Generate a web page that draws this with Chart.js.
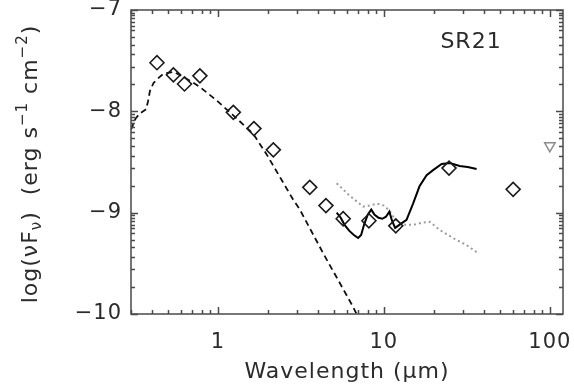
<!DOCTYPE html>
<html><head><meta charset="utf-8">
<script src="https://cdn.jsdelivr.net/npm/chart.js@4/dist/chart.umd.min.js"></script>
<style>html,body{margin:0;padding:0;background:#fff}#wrap{width:574px;height:391px;position:relative}</style>
</head><body><div id="wrap"><canvas id="c"></canvas></div>
<script>
// Photometry (diamonds)
const photWave = [0.43, 0.54, 0.63, 0.78, 1.24, 1.65, 2.16, 3.58, 4.48, 5.69, 8.13, 11.8, 24.7, 60.1];
const photFlux = [-7.52, -7.64, -7.73, -7.65, -8.01, -8.17, -8.38, -8.75, -8.93, -9.06, -9.08, -9.13, -8.56, -8.77];
// Upper limit (triangle)
const limWave = [100];
const limFlux = [-8.34];
// Stellar photosphere (dashed)
const starWave = [0.30, 0.32, 0.34, 0.37, 0.38, 0.39, 0.41, 0.44, 0.47, 0.54, 0.62, 0.70, 0.78, 0.98, 1.24, 1.63, 1.96, 2.2, 2.84, 3.12, 4.31, 6.53, 6.85];
const starFlux = [-8.18, -8.07, -8.02, -7.98, -7.90, -7.80, -7.72, -7.67, -7.63, -7.61, -7.66, -7.71, -7.76, -7.89, -8.04, -8.22, -8.42, -8.56, -8.87, -8.97, -9.40, -9.93, -10.0];
// IRS spectrum (solid)
const irsWave = [5.2, 5.5, 5.8, 6.2, 6.6, 7.0, 7.3, 7.6, 8.0, 8.4, 8.8, 9.3, 9.8, 10.3, 10.8, 11.2, 11.7, 12.4, 13.7, 15.0, 16.4, 18.1, 19.8, 22.3, 25.0, 28.6, 32.0, 36.2];
const irsFlux = [-9.00, -9.05, -9.12, -9.18, -9.22, -9.25, -9.22, -9.12, -9.02, -8.97, -9.02, -9.05, -9.06, -9.04, -8.99, -9.08, -9.15, -9.12, -9.07, -8.91, -8.74, -8.63, -8.58, -8.52, -8.51, -8.54, -8.55, -8.57];
// Second spectrum (grey dotted)
const modWave = [5.2, 6.2, 7.5, 8.2, 9.1, 10.0, 10.8, 11.5, 12.4, 13.5, 15.0, 17.0, 18.9, 21.7, 26.1, 31.5, 36.2];
const modFlux = [-8.71, -8.83, -8.94, -8.93, -8.91, -8.93, -8.98, -9.05, -9.10, -9.12, -9.12, -9.10, -9.09, -9.17, -9.25, -9.32, -9.39];
// Axis tick labels
const xTickLabels = [1, 10, 100];
const yTickLabels = [-10, -9, -8, -7];
const yMinorFrac = [0.027, 0.053, 0.083, 0.117, 0.153, 0.2, 0.267, 0.343, 0.437, 0.56, 0.733];
const objectName = 'SR21';

const FONT = '"DejaVu Sans", "Liberation Sans", sans-serif';
const TXT = '#2b2b2b';
const AXIS = '#4a4a4a';
const pts = (xs, ys) => xs.map((v, i) => ({x: v, y: ys[i]}));

const spacing = {id: 'spacing', beforeDraw(chart){ chart.ctx.letterSpacing = '1px'; }};

const frame = {id: 'frame', afterDatasetsDraw(chart){
  const {ctx, chartArea: a, scales: {x, y}} = chart;
  ctx.save();
  ctx.strokeStyle = AXIS; ctx.lineWidth = 1.5;
  ctx.strokeRect(a.left, a.top, a.right - a.left, a.bottom - a.top);
  ctx.beginPath();
  for (let d = -1; d <= 2; d++) for (let k = 1; k <= 9; k++) {
    const v = k * Math.pow(10, d);
    if (v < x.min - 1e-9 || v > x.max) continue;
    const px = Math.round(x.getPixelForValue(v)) + 0.5;
    const L = k === 1 ? 7 : 4;
    ctx.moveTo(px, a.bottom); ctx.lineTo(px, a.bottom - L);
    ctx.moveTo(px, a.top); ctx.lineTo(px, a.top + L);
  }
  for (const m of yTickLabels) {
    const py = Math.round(y.getPixelForValue(m)) + 0.5;
    ctx.moveTo(a.left, py); ctx.lineTo(a.left + 7, py);
    ctx.moveTo(a.right, py); ctx.lineTo(a.right - 7, py);
    if (m > -10) for (const f of yMinorFrac) {
      const q = Math.round(y.getPixelForValue(m - f)) + 0.5;
      ctx.moveTo(a.left, q); ctx.lineTo(a.left + 4, q);
      ctx.moveTo(a.right, q); ctx.lineTo(a.right - 4, q);
    }
  }
  ctx.stroke();
  // object label
  ctx.fillStyle = TXT; ctx.font = '22px ' + FONT;
  ctx.textAlign = 'center'; ctx.textBaseline = 'middle';
  ctx.fillText(objectName, a.right - 92, a.top + 32);
  ctx.restore();
}};

const yTitle = {id: 'yTitle', afterDraw(chart){
  const ctx = chart.ctx, a = chart.chartArea;
  const big = '22px ' + FONT, small = '15px ' + FONT;
  const segs = [
    ['log(\u03BDF', big, 0], ['\u03BD', small, 6], [')  (erg s', big, 0], ['\u22121', small, -8],
    [' cm', big, 0], ['\u22122', small, -8], [')', big, 0]
  ];
  ctx.save();
  ctx.letterSpacing = '1px';
  ctx.fillStyle = TXT; ctx.textBaseline = 'middle'; ctx.textAlign = 'left';
  let total = 0;
  for (const s of segs) { ctx.font = s[1]; total += ctx.measureText(s[0]).width; }
  ctx.translate(31, (a.top + a.bottom) / 2 + 2);
  ctx.rotate(-Math.PI / 2);
  let cx = -total / 2;
  for (const s of segs) { ctx.font = s[1]; ctx.fillText(s[0], cx, s[2]); cx += ctx.measureText(s[0]).width; }
  ctx.restore();
}};

new Chart(document.getElementById('c'), {
  type: 'scatter',
  data: {datasets: [
    {data: pts(photWave, photFlux), pointStyle: 'rectRot', pointRadius: 7, pointBorderWidth: 1.6,
     pointBorderColor: '#1a1a1a', pointBackgroundColor: 'rgba(0,0,0,0)', showLine: false},
    {data: pts(limWave, limFlux), pointStyle: 'triangle', rotation: 180, pointRadius: 6, pointBorderWidth: 1.5,
     pointBorderColor: '#8a8a8a', pointBackgroundColor: 'rgba(0,0,0,0)', showLine: false},
    {data: pts(irsWave, irsFlux), showLine: true, borderColor: '#000', borderWidth: 2, pointRadius: 0, fill: false},
    {data: pts(modWave, modFlux), showLine: true, borderColor: '#9c9c9c', borderWidth: 2, borderDash: [2, 3], pointRadius: 0, fill: false},
    {data: pts(starWave, starFlux), showLine: true, borderColor: '#111', borderWidth: 1.8, borderDash: [6, 4], pointRadius: 0, fill: false}
  ]},
  options: {
    responsive: true, maintainAspectRatio: false, animation: false,
    layout: {padding: {top: 10, right: 11, left: 0, bottom: 0}},
    plugins: {legend: {display: false}, tooltip: {enabled: false}},
    scales: {
      x: {type: 'logarithmic', min: 0.3, max: 120,
        grid: {display: false, drawTicks: false}, border: {display: false},
        afterBuildTicks: s => { s.ticks = xTickLabels.map(v => ({value: v})); },
        ticks: {callback: v => String(v), font: {family: FONT, size: 21}, color: TXT, padding: 16, maxRotation: 0, autoSkip: false},
        title: {display: true, text: 'Wavelength (\u03BCm)', font: {family: FONT, size: 22}, color: TXT, padding: {top: 0, bottom: 6}},
        afterFit: s => { s.height = 77; s.paddingLeft = 0; s.paddingRight = 0; }
      },
      y: {min: -10, max: -7,
        grid: {display: false, drawTicks: false}, border: {display: false},
        afterBuildTicks: s => { s.ticks = yTickLabels.map(v => ({value: v})); },
        ticks: {callback: v => (v < 0 ? '\u2212' : '') + Math.abs(v), font: {family: FONT, size: 21}, color: TXT, padding: 9},
        afterFit: s => { s.width = 131; s.paddingTop = 0; s.paddingBottom = 0; }
      }
    }
  },
  plugins: [spacing, frame, yTitle]
});
</script></body></html>
